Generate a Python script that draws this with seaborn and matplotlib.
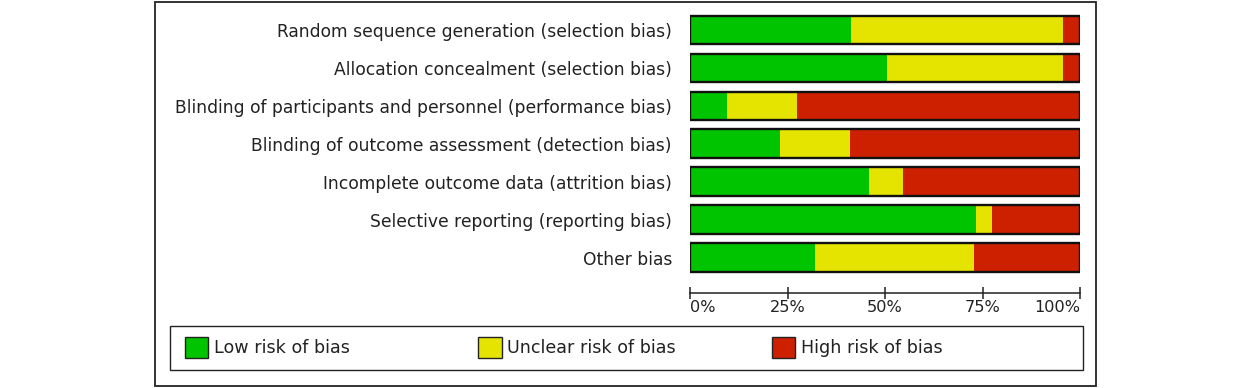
import matplotlib
matplotlib.use("Agg")
import matplotlib.pyplot as plt
from matplotlib.patches import Patch, Rectangle
import pandas as pd
import seaborn as sns

domains = [
    "Random sequence generation (selection bias)",
    "Allocation concealment (selection bias)",
    "Blinding of participants and personnel (performance bias)",
    "Blinding of outcome assessment (detection bias)",
    "Incomplete outcome data (attrition bias)",
    "Selective reporting (reporting bias)",
    "Other bias",
]
low = [41.4, 50.4, 9.6, 23.2, 45.8, 73.3, 32.1]
unclear = [54.2, 45.2, 17.9, 17.9, 8.8, 4.2, 40.7]
high = [4.4, 4.4, 72.5, 58.9, 45.4, 22.5, 27.2]
legend_labels = ["Low risk of bias", "Unclear risk of bias", "High risk of bias"]
tick_vals = [0, 25, 50, 75, 100]
tick_labels = ["0%", "25%", "50%", "75%", "100%"]

GREEN, YELLOW, RED = "#00c400", "#e5e400", "#cd2000"

df = pd.DataFrame({"domain": domains, "low": low, "unclear": unclear, "high": high})
df["low_unc"] = df["low"] + df["unclear"]
df["total"] = df["low_unc"] + df["high"]

sns.set_style("white")
plt.rcParams["font.family"] = ["DejaVu Sans"]

W, H = 1250, 388
fig = plt.figure(figsize=(W / 100, H / 100), dpi=100)
ax = fig.add_axes([690 / W, 1 - 293.3 / H, 390 / W, (293.3 - 11) / H])

bw = 0.756
# stacked bars drawn back to front
sns.barplot(data=df, x="total", y="domain", color=RED, width=bw, errorbar=None,
            saturation=1, linewidth=0, ax=ax)
sns.barplot(data=df, x="low_unc", y="domain", color=YELLOW, width=bw, errorbar=None,
            saturation=1, linewidth=0, ax=ax)
sns.barplot(data=df, x="low", y="domain", color=GREEN, width=bw, errorbar=None,
            saturation=1, linewidth=0, ax=ax)
sns.barplot(data=df, x="total", y="domain", color="#111111", width=bw, errorbar=None,
            fill=False, linewidth=1.7, ax=ax)

ax.set_xlim(0, 100)
ax.set_ylim(6.938, -0.5)
ax.set_xlabel("")
ax.set_ylabel("")
for s in ["top", "right", "left"]:
    ax.spines[s].set_visible(False)
ax.spines["bottom"].set_color("#222222")
ax.spines["bottom"].set_linewidth(1.1)

ax.set_xticks(tick_vals)
ax.set_xticklabels(tick_labels)
ax.tick_params(axis="x", direction="inout", length=9, width=1.1, color="#222222",
               labelsize=11.6, labelcolor="#222222", pad=0.5, bottom=True)
ax.tick_params(axis="y", length=0, pad=13, labelsize=12.3, labelcolor="#222222")
xl = ax.get_xticklabels()
xl[0].set_ha("left")
xl[-1].set_ha("right")

# legend: box plus three evenly spaced entries
fig.add_artist(Rectangle((170 / W, 1 - 370 / H), 913 / W, 44 / H,
                         transform=fig.transFigure, fill=False,
                         edgecolor="#222222", linewidth=1.0))
for i, (lab, col) in enumerate(zip(legend_labels, (GREEN, YELLOW, RED))):
    x0 = (185 + 293.5 * i) / W
    fig.legend([Patch(facecolor=col, edgecolor="#222222", linewidth=1.0)], [lab],
               loc="center left", bbox_to_anchor=(x0, 1 - 347.5 / H),
               fontsize=12.6, handlelength=1.32, handleheight=1.44,
               handletextpad=0.32, borderpad=0, borderaxespad=0,
               frameon=False, labelcolor="#222222")

# outer border
fig.add_artist(Rectangle((155 / W, 2 / H), (1096 - 155) / W, (386 - 2) / H,
                         transform=fig.transFigure, fill=False,
                         edgecolor="#222222", linewidth=1.3))

fig.savefig("out.png", dpi=100)
